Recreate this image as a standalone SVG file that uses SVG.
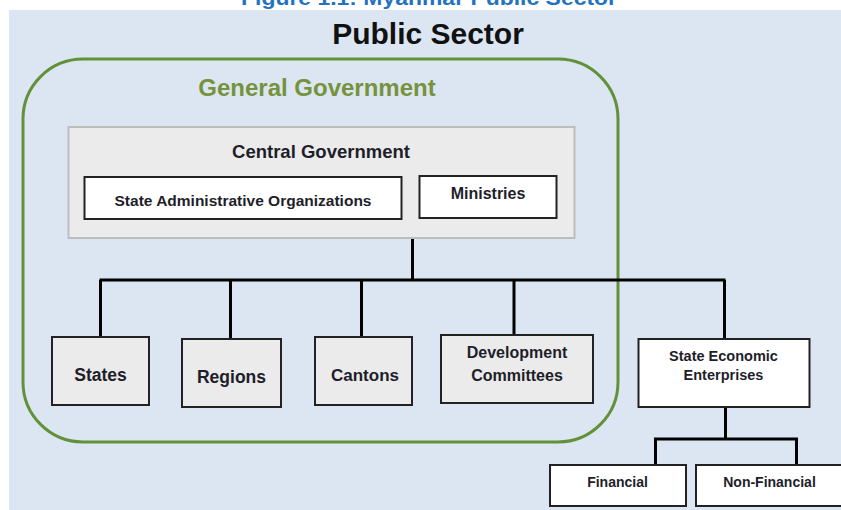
<svg xmlns="http://www.w3.org/2000/svg" width="841" height="510" viewBox="0 0 841 510">
  <style>
    text { font-family: "Liberation Sans", Arial, sans-serif; font-weight: bold; text-anchor: middle; fill: #1e1e2a; }
    .caption { fill: #2472c0; font-size: 21px; }
    .heading { font-size: 30px; fill: #111; }
    .gg { fill: #76923c; font-size: 24px; }
    .box-white { fill: #ffffff; stroke: #222; stroke-width: 2; }
    .box-grey { fill: #ebebeb; stroke: #222; stroke-width: 2; }
    .link { fill: none; stroke: #000; stroke-width: 3; stroke-linejoin: miter; }
  </style>

  <!-- caption, clipped by the page top -->
  <text class="caption" x="429" y="5" textLength="376" lengthAdjust="spacingAndGlyphs">Figure 1.1: Myanmar Public Sector</text>

  <!-- page background -->
  <rect x="9" y="10" width="840" height="505" fill="#dce6f2"/>

  <text class="heading" x="428" y="44">Public Sector</text>

  <!-- General Government frame -->
  <g id="general-government">
    <rect x="23" y="59" width="595" height="383" rx="60" ry="60" fill="none" stroke="#62913a" stroke-width="3"/>
    <text class="gg" x="317" y="96">General Government</text>
  </g>

  <!-- connectors -->
  <g id="connectors">
    <path class="link" d="M412.5 238 V280"/>
    <path class="link" d="M99.5 280 H725.5"/>
    <path class="link" d="M100.5 280 V337"/>
    <path class="link" d="M230.5 280 V339"/>
    <path class="link" d="M361.5 280 V337"/>
    <path class="link" d="M514 280 V338"/>
    <path class="link" d="M724.5 280 V339"/>
    <path class="link" d="M725.5 407 V439"/>
    <path class="link" d="M655.5 465 V439 H796.5 V465"/>
  </g>

  <g id="central-government">
    <rect x="68.5" y="127" width="506" height="111" fill="#ebebeb" stroke="#bdbdbd" stroke-width="2"/>
    <text x="321" y="158" font-size="18.5">Central Government</text>
  </g>

  <g id="state-admin-orgs">
    <rect class="box-white" x="84.5" y="177" width="317" height="42"/>
    <text x="243" y="206" font-size="15.5">State Administrative Organizations</text>
  </g>

  <g id="ministries">
    <rect class="box-white" x="419.5" y="176" width="137" height="42"/>
    <text x="488" y="199" font-size="16">Ministries</text>
  </g>

  <g id="states">
    <rect class="box-grey" x="52" y="337" width="97" height="68"/>
    <text x="100.5" y="381" font-size="17.5">States</text>
  </g>

  <g id="regions">
    <rect class="box-grey" x="182" y="339" width="99" height="68"/>
    <text x="231.5" y="383" font-size="17.5">Regions</text>
  </g>

  <g id="cantons">
    <rect class="box-grey" x="315" y="337" width="97" height="68"/>
    <text x="365" y="381" font-size="17">Cantons</text>
  </g>

  <g id="development-committees">
    <rect class="box-grey" x="441" y="335" width="152" height="68"/>
    <text x="517" y="358" font-size="16">Development</text>
    <text x="517" y="381" font-size="16">Committees</text>
  </g>

  <g id="state-economic-enterprises">
    <rect class="box-white" x="638.5" y="339" width="171" height="68"/>
    <text x="723.5" y="361" font-size="14.5">State Economic</text>
    <text x="723.5" y="380" font-size="14.5">Enterprises</text>
  </g>

  <g id="financial">
    <rect class="box-white" x="550" y="465" width="136" height="41"/>
    <text x="617.5" y="486.5" font-size="14">Financial</text>
  </g>

  <g id="non-financial">
    <rect class="box-white" x="696" y="465" width="150" height="41"/>
    <text x="769.5" y="486.5" font-size="14">Non-Financial</text>
  </g>
</svg>
